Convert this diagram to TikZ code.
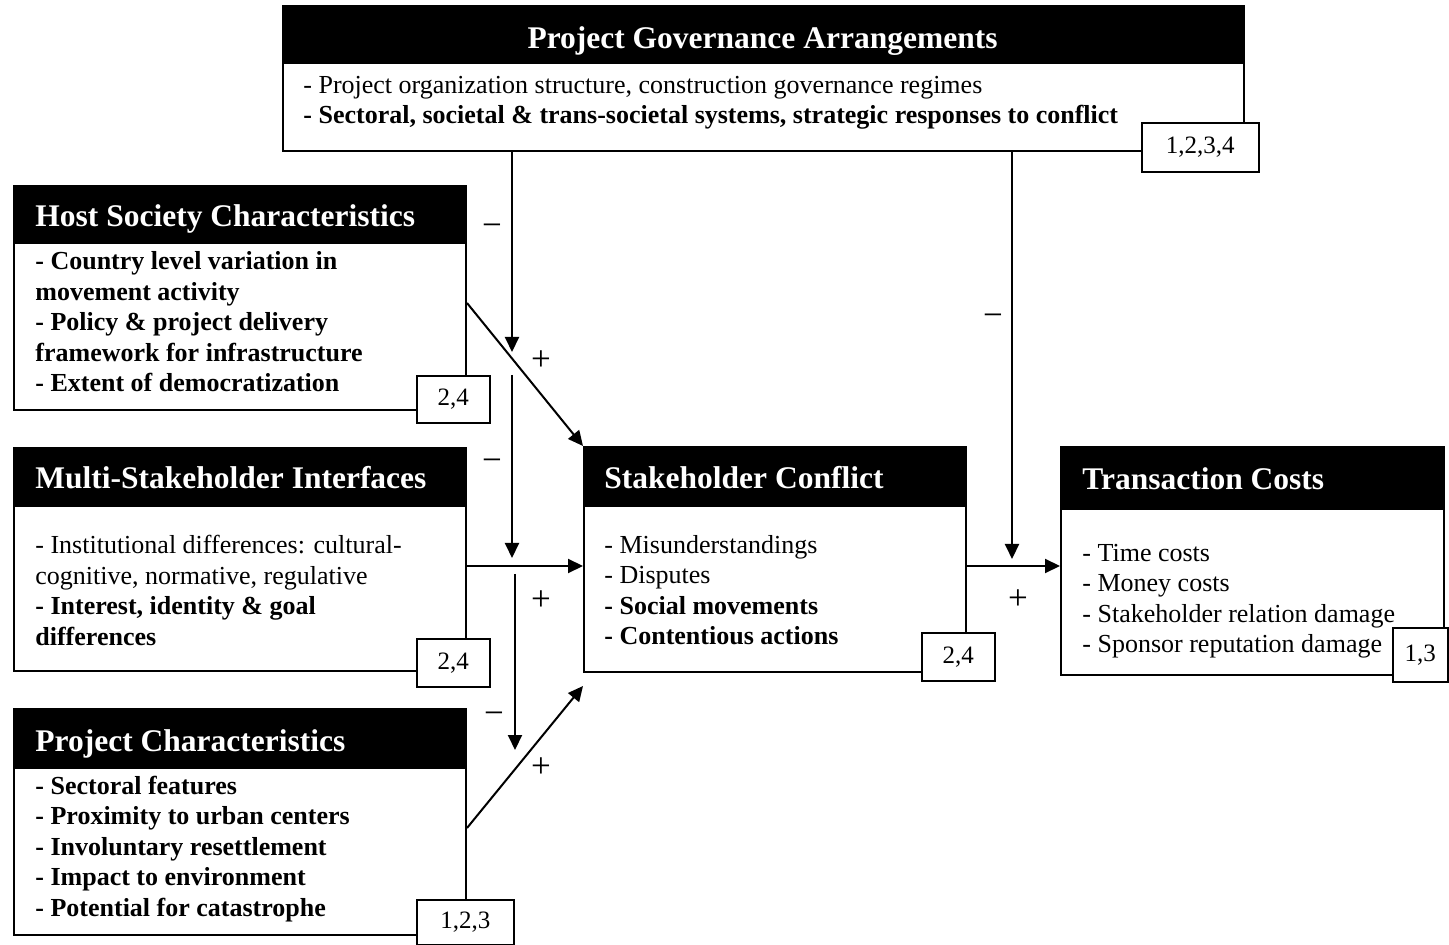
\documentclass[tikz,border=0pt]{standalone}
\usepackage{fontspec}
\setmainfont{Liberation Serif}
\usetikzlibrary{arrows.meta}
\begin{document}
\begin{tikzpicture}[x=0.5pt,y=-0.5pt,
  hdr/.style={draw=black, fill=black, line width=1pt, inner sep=0pt, anchor=north west},
  bodybox/.style={draw=black, fill=white, line width=1pt, inner sep=0pt, anchor=north west},
  tagbox/.style={draw=black, fill=white, line width=0.8pt, inner sep=0pt, anchor=north west, font=\fontsize{12.5}{14}\selectfont},
  title/.style={text=white, font=\fontsize{15.75}{18}\selectfont\bfseries, inner sep=0pt, anchor=base west},
  bodytext/.style={font=\fontsize{13}{15.25}\selectfont, inner sep=0pt, anchor=west, align=left},
  sign/.style={font=\fontsize{17.5}{18}\selectfont, inner sep=0pt},
  arr/.style={line width=1pt, -{Triangle[length=7.5pt,width=7pt]}}
]
\useasboundingbox[fill=white] (0,0) rectangle (1449,945);

% Project Governance Arrangements
\node[bodybox, minimum width=480.5pt, minimum height=44pt] (gb) at (282,62) {};
\node[hdr, minimum width=480.5pt, minimum height=28.5pt] (gh) at (282,5) {};
\node[title, anchor=base] (gt) at (762.5,49) {Project Governance Arrangements};
\node[bodytext] (gx) at (303,103) {- Project organization structure, construction governance regimes\\\textbf{- Sectoral, societal \& trans-societal systems, strategic responses to conflict}};
\node[tagbox, minimum width=58.5pt, minimum height=24.5pt] (gtag) at (1141,122) {1,2,3,4};

% Host Society Characteristics
\node[bodybox, minimum width=226pt, minimum height=83.5pt] (hb) at (13,242) {};
\node[hdr, minimum width=226pt, minimum height=28.5pt] (hh) at (13,185) {};
\node[title] (ht) at (35,227) {Host Society Characteristics};
\node[bodytext, font=\fontsize{13}{15.25}\selectfont\bfseries] (hx) at (35,322) {- Country level variation in\\movement activity\\- Policy \& project delivery\\framework for infrastructure\\- Extent of democratization};
\node[tagbox, minimum width=36.5pt, minimum height=23.5pt] (htag) at (416,375) {2,4};

% Multi-Stakeholder Interfaces
\node[bodybox, minimum width=226pt, minimum height=82.5pt] (mb) at (13,505) {};
\node[hdr, minimum width=226pt, minimum height=29pt] (mh) at (13,447) {};
\node[title] (mt) at (35,489) {Multi-Stakeholder Interfaces};
\node[bodytext] (mx) at (35,590.5) {- Institutional differences: cultural-\\cognitive, normative, regulative\\\textbf{- Interest, identity \& goal}\\\textbf{differences}};
\node[tagbox, minimum width=36.5pt, minimum height=24pt] (mtag) at (416,638) {2,4};

% Project Characteristics
\node[bodybox, minimum width=226pt, minimum height=83.5pt] (pb) at (13,767) {};
\node[hdr, minimum width=226pt, minimum height=29.5pt] (ph) at (13,708) {};
\node[title] (pt) at (35,751) {Project Characteristics};
\node[bodytext, font=\fontsize{13}{15.25}\selectfont\bfseries] (px) at (35,849) {- Sectoral features\\- Proximity to urban centers\\- Involuntary resettlement\\- Impact to environment\\- Potential for catastrophe};
\node[tagbox, minimum width=48.5pt, minimum height=22.5pt] (ptag) at (416,899) {1,2,3};

% Stakeholder Conflict
\node[bodybox, minimum width=191pt, minimum height=83pt] (sb) at (583,505) {};
\node[hdr, minimum width=191pt, minimum height=29.5pt] (sh) at (583,446) {};
\node[title] (st) at (604,489) {Stakeholder Conflict};
\node[bodytext] (sx) at (604,590) {- Misunderstandings\\- Disputes\\\textbf{- Social movements}\\\textbf{- Contentious actions}};
\node[tagbox, minimum width=36.5pt, minimum height=24pt] (stag) at (921,632) {2,4};

% Transaction Costs
\node[bodybox, minimum width=191.5pt, minimum height=83pt] (tb) at (1060,508) {};
\node[hdr, minimum width=191.5pt, minimum height=31pt] (th) at (1060,446) {};
\node[title] (tt) at (1082,490) {Transaction Costs};
\node[bodytext] (tx) at (1082,601) {- Time costs\\- Money costs\\- Stakeholder relation damage\\- Sponsor reputation damage};
\node[tagbox, minimum width=27.5pt, minimum height=27pt] (ttag) at (1392,627) {1,3};

% free ends
\coordinate (m1) at (512,352);
\coordinate (s2) at (512,375);
\coordinate (m2) at (512,558);
\coordinate (s3) at (515,574);
\coordinate (m3) at (515,750);
\coordinate (pend) at (583,686);
\coordinate (m4) at (1012,559);

% connectors
\draw[arr] (gb.south -| m1) -- (m1);
\draw[arr] (s2) -- (m2);
\draw[arr] (s3) -- (m3);
\draw[arr] (hb.east |- 0,303) -- (sh.north west);
\draw[arr] (mb.east |- 0,566) -- (sb.west |- 0,566);
\draw[arr] (pb.east |- 0,828) -- (pend);
\draw[arr] (gb.south -| m4) -- (m4);
\draw[arr] (sb.east |- 0,566) -- (tb.west |- 0,566);

% signs
\node[sign] (n1) at (492,230) {−};
\node[sign] (p1) at (541,361) {+};
\node[sign] (n2) at (492,465) {−};
\node[sign] (p2) at (541,601) {+};
\node[sign] (n3) at (494,718) {−};
\node[sign] (p3) at (541,768) {+};
\node[sign] (n4) at (993,320) {−};
\node[sign] (p4) at (1018,600) {+};
\end{tikzpicture}
\end{document}
